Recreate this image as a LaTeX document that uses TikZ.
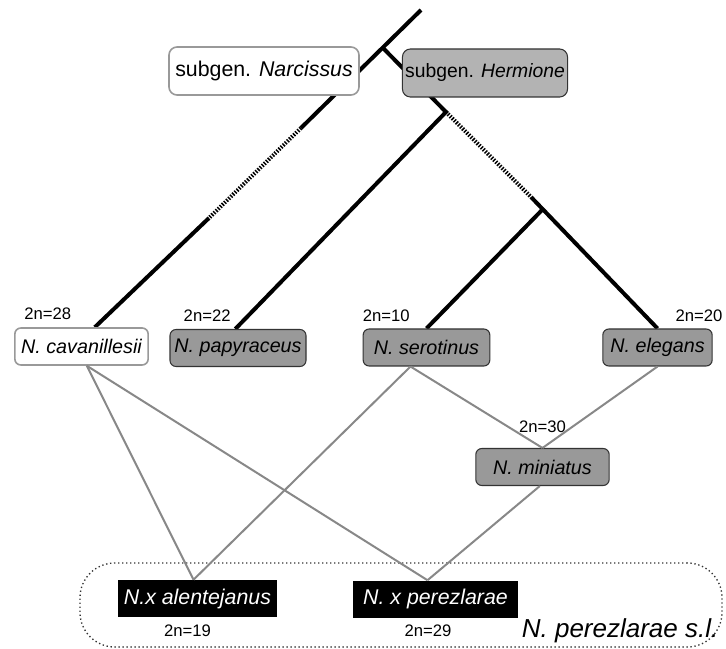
\documentclass[tikz,border=0pt]{standalone}
\usepackage{fontspec}
\setmainfont{Liberation Sans}
\usepackage{xcolor}
\usetikzlibrary{positioning, backgrounds}

\definecolor{boxgray}{HTML}{999999}
\definecolor{subgray}{HTML}{B3B3B3}
\definecolor{edgegray}{HTML}{888888}

\begin{document}
\begin{tikzpicture}[
        x=0.75pt, y=-0.75pt,
        taxon/.style={rectangle, rounded corners=4.5pt, draw=black!80, fill=boxgray, line width=0.8pt, minimum height=27.75pt, inner sep=2pt, font=\fontsize{14.8}{17}\selectfont\itshape},
        outgroup/.style={taxon, draw=black!40, fill=white, line width=1.2pt},
        hybrid/.style={rectangle, fill=black, text=white, minimum height=27.75pt, inner sep=2pt, font=\fontsize{16}{18}\selectfont\itshape},
        subgenus/.style={rectangle, rounded corners=6pt, minimum height=36pt, inner sep=2pt, font=\fontsize{16}{18}\selectfont},
        chromo/.style={inner sep=0pt, font=\fontsize{12.5}{14}\selectfont},
        branch/.style={line width=3pt},
        gap/.style={branch, dash pattern=on 1.1pt off 1.1pt},
        cross/.style={draw=edgegray, line width=1.5pt}
    ]
            \useasboundingbox (0,0) rectangle (726,649);

            \node[draw=black!80, dotted, line width=1pt, rounded corners=26pt, minimum width=481.5pt, minimum height=63pt] (grp) at (401,605) {};
            \node[anchor=base east, inner sep=0pt, font=\fontsize{19.5}{22}\selectfont\itshape] (sl) at ([shift={(-3pt,7.5pt)}]grp.south east) {N. perezlarae s.l.};

            \node[subgenus, draw=black!40, fill=white, line width=1.2pt, minimum width=142.5pt] (narc) at (264,71) {subgen. \textit{Narcissus}};
            \node[subgenus, draw=black!80, fill=subgray, line width=0.8pt, minimum width=123pt, font=\fontsize{14.5}{17}\selectfont] (herm) at (485,73) {subgen. \textit{Hermione}};

            \node[outgroup, minimum width=100pt] (cav) at (81.5,346.5) {N. cavanillesii};
            \node[taxon, minimum width=102pt] (pap) at (238,348) {N. papyraceus};
            \node[taxon, minimum width=95pt] (ser) at (426.5,347.5) {N. serotinus};
            \node[taxon, minimum width=82pt] (ele) at (657.5,347.5) {N. elegans};
            \node[taxon, minimum width=100pt] (mini) at (542.5,467) {N. miniatus};
            \node[hybrid, minimum width=119pt] (alen) at (197.5,598.5) {N.x alentejanus};
            \node[hybrid, minimum width=124pt] (per) at (435.5,599) {N. x perezlarae};

            \node[chromo, above right=5.2pt and 7.5pt of cav.north west] (cavn) {2n=28};
            \node[chromo, above right=5.2pt and 10.5pt of pap.north west] (papn) {2n=22};
            \node[chromo, above right=5.2pt and 0pt of ser.north west] (sern) {2n=10};
            \node[chromo, above left=5.2pt and -7.5pt of ele.north east] (elen) {2n=20};
            \node[chromo, above=11pt of mini] (minin) {2n=30};
            \node[chromo, below=5.2pt of alen, xshift=-7.5pt] (alenn) {2n=19};
            \node[chromo, below=5.2pt of per, xshift=-5.6pt] (pern) {2n=29};

            % Tree
            \coordinate (top) at (421,10);
            \coordinate (j1) at (383,48);
            \coordinate (j2) at (446,112);
            \coordinate (j3) at (543,209);
            \coordinate (g1) at (301,128);
            \coordinate (g2) at (209,218);
            \coordinate (g3) at (531,197);
            \begin{scope}[on background layer]
                \draw[branch] (top) -- (g1);
                \draw[gap] (g1) -- (g2);
                \draw[branch] (g2) -- ([xshift=10pt]cav.north);
                \draw[branch] (j1) -- (j2) -- ([xshift=-2pt]pap.north);
                \draw[gap] (j2) -- (g3);
                \draw[branch] (g3) -- (ele.north);
                \draw[branch] (j3) -- (ser.north);
            \end{scope}

            % Hybrids
            \draw[cross] ([xshift=4pt]cav.south) -- ([xshift=-3pt]alen.north);
            \draw[cross] ([xshift=4pt]cav.south) -- ([xshift=-6pt]per.north);
            \draw[cross] ([xshift=-12pt]ser.south) -- ([xshift=-3pt]alen.north);
            \draw[cross] ([xshift=-12pt]ser.south) -- (mini.north);
            \draw[cross] (ele.south) -- (mini.north);
            \draw[cross] ([xshift=-2pt]mini.south) -- ([xshift=-6pt]per.north);
    \end{tikzpicture}
\end{document}
